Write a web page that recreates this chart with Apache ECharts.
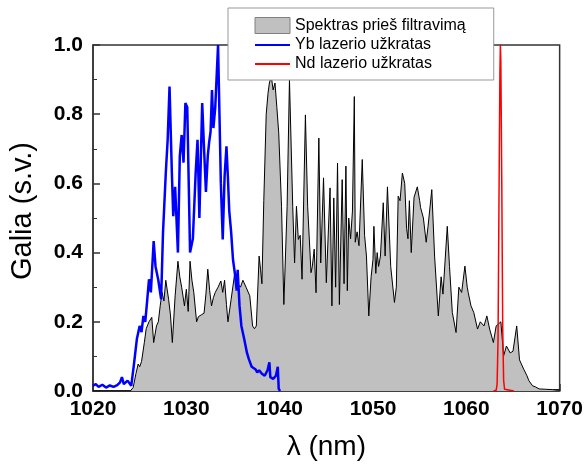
<!DOCTYPE html>
<html>
<head>
<meta charset="utf-8">
<script src="https://cdn.jsdelivr.net/npm/echarts@6/dist/echarts.min.js"></script>
<style>
html,body{margin:0;padding:0;background:#fff;}
#chart{width:586px;height:466px;}
</style>
</head>
<body>
<div id="chart"></div>
<script>
// Legend / series names
const seriesNames = ['Spektras prieš filtravimą', 'Yb lazerio užkratas', 'Nd lazerio užkratas'];
const xTicks = [1020, 1030, 1040, 1050, 1060, 1070];
const yTicks = [0.0, 0.2, 0.4, 0.6, 0.8, 1.0];

// Spectrum before filtering: [lambda nm, intensity a.u.]
const spectrum = [
[1020,0],[1024.0,0],[1024.3,0.01],[1024.6,0.05],[1024.84,0.078],[1025.0,0.07],[1025.2,0.085],[1025.5,0.14],[1025.7,0.18],[1026.0,0.2],[1026.3,0.213],[1026.5,0.14],[1026.8,0.188],[1027.0,0.2],[1027.2,0.246],[1027.4,0.285],[1027.6,0.26],[1027.8,0.32],[1028.1,0.265],[1028.3,0.22],[1028.5,0.14],[1028.8,0.275],[1029.1,0.375],[1029.3,0.33],[1029.5,0.30],[1029.8,0.246],[1030.0,0.294],[1030.2,0.23],[1030.4,0.375],[1030.6,0.32],[1030.8,0.285],[1031.1,0.2],[1031.3,0.215],[1031.6,0.22],[1031.9,0.225],[1032.1,0.28],[1032.3,0.352],[1032.5,0.29],[1032.7,0.246],[1032.9,0.27],[1033.1,0.285],[1033.4,0.30],[1033.7,0.318],[1033.9,0.285],[1034.1,0.32],[1034.3,0.25],[1034.46,0.2],[1034.8,0.265],[1035.2,0.343],[1035.5,0.31],[1035.8,0.3],[1036.06,0.32],[1036.4,0.30],[1036.8,0.275],[1037.1,0.188],[1037.3,0.18],[1037.5,0.188],[1037.8,0.39],[1037.95,0.352],[1038.1,0.31],[1038.3,0.55],[1038.56,0.80],[1038.75,0.86],[1038.9,0.89],[1039.1,0.91],[1039.3,0.87],[1039.5,0.89],[1039.7,0.82],[1039.9,0.746],[1040.2,0.534],[1040.45,0.25],[1040.8,0.534],[1041.05,0.90],[1041.4,0.534],[1041.6,0.37],[1041.8,0.534],[1042.0,0.438],[1042.2,0.45],[1042.4,0.323],[1042.76,0.798],[1043.0,0.534],[1043.36,0.342],[1043.5,0.36],[1043.7,0.41],[1043.9,0.284],[1044.2,0.731],[1044.4,0.37],[1044.7,0.616],[1045.0,0.313],[1045.4,0.587],[1045.6,0.246],[1045.8,0.558],[1046.0,0.30],[1046.2,0.659],[1046.4,0.25],[1046.7,0.611],[1046.9,0.31],[1047.1,0.65],[1047.25,0.29],[1047.4,0.50],[1047.6,0.44],[1047.8,0.52],[1048.0,0.851],[1048.1,0.43],[1048.3,0.46],[1048.5,0.42],[1048.85,0.669],[1049.1,0.45],[1049.3,0.39],[1049.55,0.217],[1049.8,0.33],[1050.0,0.38],[1050.1,0.476],[1050.3,0.34],[1050.45,0.40],[1050.6,0.36],[1050.8,0.39],[1051.1,0.544],[1051.3,0.39],[1051.55,0.59],[1051.9,0.36],[1052.3,0.256],[1052.5,0.30],[1052.7,0.563],[1052.9,0.55],[1053.15,0.63],[1053.4,0.60],[1053.6,0.47],[1053.75,0.44],[1053.9,0.55],[1054.1,0.40],[1054.4,0.56],[1054.75,0.59],[1055.0,0.55],[1055.1,0.53],[1055.4,0.50],[1055.7,0.43],[1055.9,0.476],[1056.3,0.582],[1056.6,0.39],[1057.0,0.217],[1057.3,0.33],[1057.5,0.28],[1057.96,0.476],[1058.2,0.36],[1058.5,0.227],[1058.9,0.169],[1059.2,0.30],[1059.5,0.285],[1059.85,0.361],[1060.1,0.3],[1060.2,0.285],[1060.5,0.246],[1060.8,0.227],[1061.2,0.179],[1061.5,0.20],[1061.9,0.188],[1062.2,0.217],[1062.5,0.179],[1062.9,0.14],[1063.2,0.188],[1063.7,0.20],[1064.0,0.102],[1064.3,0.13],[1064.7,0.11],[1065.0,0.115],[1065.4,0.188],[1065.7,0.09],[1066.15,0.063],[1066.5,0.044],[1066.7,0.03],[1067.1,0.015],[1067.4,0.012],[1067.8,0.006],[1068.5,0.005],[1069.2,0.004],[1070,0.004]
];

// Yb laser seed
const ybSeed = [
[1020,0.015],[1020.3,0.02],[1020.6,0.012],[1021,0.018],[1021.4,0.01],[1021.8,0.016],[1022.2,0.012],[1022.6,0.017],[1022.9,0.025],[1023.1,0.04],[1023.3,0.02],[1023.7,0.03],[1024.1,0.015],[1024.4,0.08],[1024.7,0.15],[1025.0,0.188],[1025.2,0.17],[1025.4,0.217],[1025.6,0.2],[1025.8,0.26],[1026.0,0.323],[1026.2,0.285],[1026.5,0.433],[1026.7,0.36],[1027.0,0.32],[1027.3,0.265],[1027.5,0.457],[1027.8,0.63],[1028.0,0.726],[1028.2,0.88],[1028.45,0.63],[1028.6,0.505],[1028.8,0.59],[1029.1,0.40],[1029.3,0.678],[1029.5,0.74],[1029.7,0.66],[1029.9,0.832],[1030.1,0.82],[1030.4,0.40],[1030.7,0.44],[1031.0,0.63],[1031.2,0.726],[1031.4,0.5],[1031.7,0.832],[1031.9,0.70],[1032.1,0.575],[1032.3,0.68],[1032.45,0.72],[1032.6,0.75],[1032.75,0.87],[1032.9,0.76],[1033.1,0.82],[1033.4,1.0],[1033.55,0.80],[1033.7,0.6],[1033.9,0.438],[1034.1,0.62],[1034.3,0.707],[1034.45,0.62],[1034.6,0.52],[1034.8,0.46],[1035.0,0.38],[1035.2,0.34],[1035.4,0.29],[1035.5,0.35],[1035.7,0.246],[1035.9,0.188],[1036.2,0.15],[1036.5,0.11],[1036.7,0.092],[1037.0,0.07],[1037.4,0.063],[1037.6,0.054],[1037.8,0.06],[1038.1,0.05],[1038.4,0.044],[1038.7,0.06],[1038.9,0.083],[1039.0,0.04],[1039.3,0.035],[1039.6,0.044],[1039.8,0.07],[1039.9,0.006],[1040.05,0.0]
];

// Nd laser seed
const ndSeed = [
[1062.9,0],[1063.2,0.002],[1063.3,0.02],[1063.4,0.15],[1063.5,0.55],[1063.6,0.92],[1063.65,1.0],[1063.7,0.95],[1063.8,0.6],[1063.9,0.18],[1064.0,0.03],[1064.1,0.005],[1065.1,0]
];

const font = 'Liberation Sans, Arial, sans-serif';
const chart = echarts.init(document.getElementById('chart'), null, {renderer:'canvas'});
chart.setOption({
  animation: false,
  backgroundColor: '#fff',
  grid: {left: 93, right: 25, top: 45, bottom: 74, show: true, borderColor: '#333', borderWidth: 1.5, backgroundColor: 'transparent'},
  legend: {
    orient: 'vertical',
    left: 228, top: 8,
    padding: [9, 28, 8, 26],
    itemWidth: 35, itemHeight: 16, itemGap: 3,
    backgroundColor: '#fff', borderColor: '#999', borderWidth: 1, borderRadius: 0,
    textStyle: {fontFamily: font, fontSize: 16, color: '#000'},
    data: [
      {name: seriesNames[0], icon: 'rect', itemStyle: {color: '#c0c0c0', borderColor: '#808080', borderWidth: 1}},
      {name: seriesNames[1], itemStyle: {opacity: 0}, lineStyle: {color: '#0000ff', width: 2}},
      {name: seriesNames[2], itemStyle: {opacity: 0}, lineStyle: {color: '#ff0000', width: 2}}
    ]
  },
  xAxis: {
    type: 'value', min: xTicks[0], max: xTicks[xTicks.length-1], interval: 10,
    name: 'λ (nm)', nameLocation: 'middle', nameGap: 42,
    nameTextStyle: {fontFamily: font, fontSize: 28, color: '#000', lineHeight: 28},
    axisLine: {lineStyle: {color: '#333', width: 1.5}},
    axisTick: {inside: true, length: 7, lineStyle: {color: '#333', width: 1.5}},
    minorTick: {show: true, splitNumber: 2, length: 4, lineStyle: {color: '#333', width: 1}},
    splitLine: {show: false},
    axisLabel: {fontFamily: font, fontSize: 21, fontWeight: 'bold', color: '#000', margin: 8,
      formatter: v => String(v)}
  },
  yAxis: {
    type: 'value', min: yTicks[0], max: yTicks[yTicks.length-1], interval: 0.2,
    name: 'Galia (s.v.)', nameLocation: 'middle', nameGap: 56,
    nameTextStyle: {fontFamily: font, fontSize: 29, color: '#000', lineHeight: 29, padding: [0, 0, 0, 14]},
    axisLine: {show: true, lineStyle: {color: '#333', width: 1.5}},
    axisTick: {show: true, inside: true, length: 7, lineStyle: {color: '#333', width: 1.5}},
    minorTick: {show: true, splitNumber: 2, length: 4, lineStyle: {color: '#333', width: 1}},
    splitLine: {show: false},
    axisLabel: {fontFamily: font, fontSize: 21, fontWeight: 'bold', color: '#000', margin: 10,
      formatter: v => v.toFixed(1)}
  },
  series: [
    {name: seriesNames[0], type: 'line', data: spectrum, symbol: 'none', z: 1,
     color: '#c0c0c0',
     lineStyle: {color: '#000', width: 1},
     areaStyle: {color: '#c0c0c0', opacity: 1}},
    {name: seriesNames[1], type: 'line', data: ybSeed, symbol: 'none', z: 3,
     color: '#0000ff', lineStyle: {color: '#0000ff', width: 2.5}},
    {name: seriesNames[2], type: 'line', data: ndSeed, symbol: 'none', z: 3,
     color: '#ff0000', lineStyle: {color: '#ff0000', width: 1.5}}
  ]
});
</script>
</body>
</html>
